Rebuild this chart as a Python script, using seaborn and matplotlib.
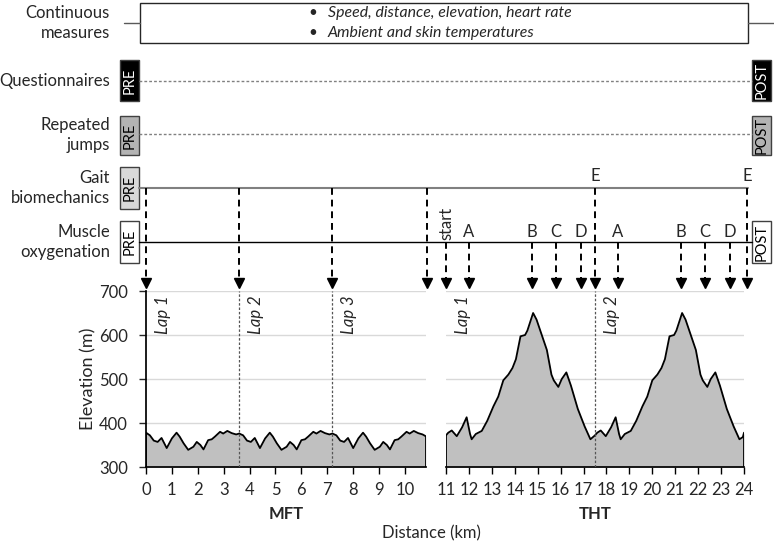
import matplotlib
matplotlib.use('Agg')
import matplotlib.pyplot as plt
from matplotlib.patches import Rectangle
from matplotlib.transforms import blended_transform_factory
import numpy as np
import pandas as pd
import seaborn as sns

# --- data --------------------------------------------------------------
# MFT: three laps of 3.6 km
mft_km = [0.00, 0.15, 0.30, 0.45, 0.60, 0.80, 1.00, 1.18, 1.30, 1.45, 1.63, 1.83,
          1.96, 2.10, 2.22, 2.40, 2.54, 2.66, 2.86, 2.98, 3.14, 3.31, 3.48,
          3.60, 3.75, 3.90, 4.05, 4.20, 4.40, 4.60, 4.78, 4.90, 5.05, 5.23, 5.43,
          5.56, 5.70, 5.82, 6.00, 6.14, 6.26, 6.46, 6.58, 6.74, 6.91, 7.08,
          7.20, 7.35, 7.50, 7.65, 7.80, 8.00, 8.20, 8.38, 8.50, 8.65, 8.83, 9.03,
          9.16, 9.30, 9.42, 9.60, 9.74, 9.86, 10.06, 10.18, 10.34, 10.51, 10.68, 10.80]
mft_elev = [378, 372, 360, 357, 366, 343, 365, 378, 369, 354, 339, 346,
            357, 350, 340, 361, 363, 369, 380, 376, 382, 377, 374,
            376, 372, 360, 357, 366, 343, 365, 378, 369, 354, 339, 346,
            357, 350, 340, 361, 363, 369, 380, 376, 382, 377, 374,
            376, 372, 360, 357, 366, 343, 365, 378, 369, 354, 339, 346,
            357, 350, 340, 361, 363, 369, 380, 376, 382, 377, 374, 370]

# THT: two laps of 6.5 km
tht_km = [11.00, 11.10, 11.25, 11.47, 11.70, 11.90, 12.05, 12.12, 12.30, 12.56, 12.80,
          13.07, 13.28, 13.50, 13.72, 13.90, 14.05, 14.25, 14.45, 14.55, 14.80, 14.95,
          15.10, 15.40, 15.60, 15.70, 15.90, 16.05, 16.25, 16.45, 16.75, 17.05, 17.30,
          17.50, 17.60, 17.75, 17.97, 18.20, 18.40, 18.55, 18.62, 18.80, 19.06, 19.30,
          19.57, 19.78, 20.00, 20.22, 20.40, 20.55, 20.75, 20.95, 21.05, 21.30, 21.45,
          21.60, 21.90, 22.10, 22.20, 22.40, 22.55, 22.75, 22.95, 23.25, 23.55, 23.80,
          23.95, 24.00]
tht_elev = [372, 378, 383, 370, 390, 413, 375, 363, 375, 382, 405,
            438, 460, 497, 510, 525, 545, 597, 600, 610, 650, 635,
            612, 566, 510, 497, 482, 500, 515, 485, 432, 392, 363,
            372, 378, 383, 370, 390, 413, 375, 363, 375, 382, 405,
            438, 460, 497, 510, 525, 545, 597, 600, 610, 650, 635,
            612, 566, 510, 497, 482, 500, 515, 485, 432, 392, 363,
            368, 378]

mft_lap_start = [0, 3.6, 7.2]
tht_lap_start = [11, 17.5]
mft_lap_names = ['Lap 1', 'Lap 2', 'Lap 3']
tht_lap_names = ['Lap 1', 'Lap 2']

gait_mft_km = [0, 3.6, 7.2, 10.85]
gait_tht_km = [17.5, 24.15]
gait_tht_labels = ['E', 'E']
muscle_km = [11, 12, 14.75, 15.8, 16.9, 18.5, 21.25, 22.3, 23.4]
muscle_labels = ['start', 'A', 'B', 'C', 'D', 'A', 'B', 'C', 'D']

row_names = ['Continuous\nmeasures', 'Questionnaires', 'Repeated\njumps',
             'Gait\nbiomechanics', 'Muscle\noxygenation']
bullets = ['Speed, distance, elevation, heart rate', 'Ambient and skin temperatures']
elev_ticks = [300, 400, 500, 600, 700]

# --- figure ---------------------------------------------------------------
sns.set_theme(style='ticks')
plt.rcParams['font.family'] = ['Lato', 'DejaVu Sans']
plt.rcParams['axes.edgecolor'] = 'black'

W, H = 774, 548
fig = plt.figure(figsize=(W / 100, H / 100), dpi=100)

# pixel canvas for the timeline part
ax_bg = fig.add_axes([0, 0, 1, 1])
ax_bg.set_xlim(0, W)
ax_bg.set_ylim(H, 0)
ax_bg.axis('off')


def px_axes(x0, x1, y0, y1):
    return fig.add_axes([x0 / W, 1 - y1 / H, (x1 - x0) / W, (y1 - y0) / H])


ax_mft = px_axes(146, 425.7, 291, 467)
ax_tht = px_axes(446, 744, 291, 467)


def draw_profile(ax, km, elev, laps, lap_names, xlim, xticks):
    df = pd.DataFrame({'km': km, 'elev': elev})
    ax.fill_between(df['km'], df['elev'], 300, color='#c0c0c0', lw=0, zorder=2)
    sns.lineplot(data=df, x='km', y='elev', ax=ax, color='black', lw=1.3, zorder=3)
    ax.vlines([df['km'].iloc[0], df['km'].iloc[-1]], 300,
              [df['elev'].iloc[0], df['elev'].iloc[-1]], color='black', lw=1.3, zorder=3)
    for start, name in zip(laps, lap_names):
        if start != xlim[0]:
            ax.axvline(start, color='#555555', lw=0.9, ls=(0, (2, 1.5)), zorder=4)
        ax.annotate(name, xy=(start, 690), xytext=(12, 0), textcoords='offset points',
                    rotation=90, ha='center', va='top', style='italic', fontsize=12)
    ax.set_xlim(*xlim)
    ax.set_ylim(300, 700)
    ax.set_xticks(xticks)
    ax.set_yticks(elev_ticks)
    ax.set_xlabel('')
    ax.set_ylabel('')
    ax.yaxis.grid(True, color='#d9d9d9', lw=1)
    ax.set_axisbelow(True)
    ax.tick_params(axis='x', length=5, width=1, labelsize=12, pad=6, color='black')
    sns.despine(ax=ax)


draw_profile(ax_mft, mft_km, mft_elev, mft_lap_start, mft_lap_names, (0, 10.8), range(0, 11))
draw_profile(ax_tht, tht_km, tht_elev, tht_lap_start, tht_lap_names, (11, 24), range(11, 25))
ax_mft.tick_params(axis='y', length=5, width=1, labelsize=12, pad=8)
ax_tht.tick_params(axis='y', left=False, labelleft=False)
ax_tht.spines['left'].set_visible(False)

ax_bg.text(286, 514, 'MFT', ha='center', va='center', fontsize=12, fontweight='bold')
ax_bg.text(595, 514, 'THT', ha='center', va='center', fontsize=12, fontweight='bold')
ax_bg.text(431, 533, 'Distance (km)', ha='center', va='center', fontsize=12)
ax_bg.text(88, 379, 'Elevation (m)', ha='center', va='center', fontsize=13, rotation=90)

# --- timeline rows ---------------------------------------------------------
row_y = [23, 81, 135, 188, 242]
for name, y in zip(row_names, row_y):
    ax_bg.text(110, y, name, ha='right', va='center', fontsize=12, linespacing=1.25)

# continuous measures box
ax_bg.add_patch(Rectangle((140, 3), 608, 40, fc='white', ec='#262626', lw=1))
ax_bg.plot([124, 140], [23, 23], color='#595959', lw=1)
ax_bg.plot([748, 774], [23, 23], color='#595959', lw=1)
for i, b in enumerate(bullets):
    ax_bg.text(313, 13 + 20 * i, '•', ha='center', va='center', fontsize=11)
    ax_bg.text(328, 13 + 20 * i, b, ha='left', va='center', fontsize=11.4, style='italic')


def box(x, y0, y1, label, fc, tc='black', w=19):
    ax_bg.add_patch(Rectangle((x, y0), w, y1 - y0, fc=fc, ec='#404040', lw=1))
    ax_bg.text(x + w / 2, (y0 + y1) / 2, label, rotation=90, ha='center', va='center',
               fontsize=10.5, color=tc)


# questionnaires
box(120, 60, 101, 'PRE', 'black', 'white')
box(752, 60, 101, 'POST', 'black', 'white')
ax_bg.plot([139, 752], [81, 81], color='#808080', lw=1, ls=(0, (2, 1.5)))
# repeated jumps
box(120, 116, 155, 'PRE', '#b3b3b3')
box(752, 116, 155, 'POST', '#b3b3b3')
ax_bg.plot([139, 752], [134, 134], color='#808080', lw=1, ls=(0, (2, 1.5)))
# gait biomechanics
box(120, 167, 209, 'PRE', '#d9d9d9')
ax_bg.plot([139, 748], [188, 188], color='#808080', lw=1.5)
# muscle oxygenation
box(120, 221, 263, 'PRE', 'white')
box(752, 221, 263, 'POST', 'white')
ax_bg.plot([139, 752], [242, 242], color='black', lw=1)


def event_arrow(ax, x, y_start):
    tr = blended_transform_factory(ax.transData, ax_bg.transData)
    ax_bg.plot([x, x], [y_start, 280], transform=tr, color='black', lw=1.4,
               ls=(0, (3.5, 2.5)))
    ax_bg.plot([x], [283], transform=tr, marker='v', ms=7, color='black', lw=0)
    return tr


for x in gait_mft_km:
    event_arrow(ax_mft, x, 188)
for x, lab in zip(gait_tht_km, gait_tht_labels):
    tr = event_arrow(ax_tht, x, 188)
    ax_bg.text(x, 176, lab, transform=tr, ha='center', va='center', fontsize=12)
for x, lab in zip(muscle_km, muscle_labels):
    tr = event_arrow(ax_tht, x, 242)
    if lab == 'start':
        ax_bg.text(x, 240, lab, transform=tr, ha='center', va='bottom', rotation=90, fontsize=12)
    else:
        ax_bg.text(x, 232, lab, transform=tr, ha='center', va='center', fontsize=12)

fig.savefig('out.png', dpi=100)
